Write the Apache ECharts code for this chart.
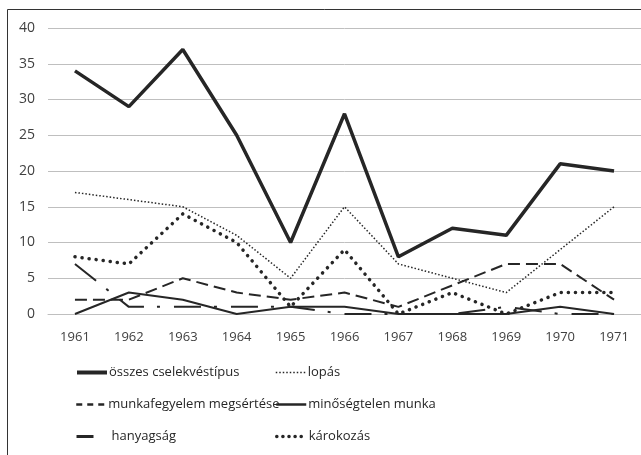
<!DOCTYPE html>
<html>
<head>
<meta charset="utf-8">
<script src="https://cdn.jsdelivr.net/npm/echarts@6/dist/echarts.min.js"></script>
<style>html,body{margin:0;padding:0;background:#fff}#c{width:641px;height:455px}</style>
</head>
<body>
<div id="c"></div>
<script>
var years = ['1961','1962','1963','1964','1965','1966','1967','1968','1969','1970','1971'];
var osszes = [34, 29, 37, 25, 10, 28, 8, 12, 11, 21, 20];
var lopas = [17, 16, 15, 11, 5, 15, 7, 5, 3, 9, 15];
var munkafegyelem = [2, 2, 5, 3, 2, 3, 1, 4, 7, 7, 2];
var minosegtelen = [0, 3, 2, 0, 1, 1, 0, 0, 0, 1, 0];
var hanyagsag = [7, 1, 1, 1, 1, 0, 0, 0, 1, 0, 0];
var karokozas = [8, 7, 14, 10, 1, 9, 0, 3, 0, 3, 3];
var seriesNames = ['összes cselekvéstípus','lopás','munkafegyelem megsértése','minőségtelen munka','hanyagság','károkozás'];

var FONT = '"Open Sans", sans-serif';
var chart = echarts.init(document.getElementById('c'), null, {renderer:'canvas'});

function mkSeries(name, data, ls) {
  return {
    name: name, type: 'line', data: data, symbol: 'none', showSymbol: false, animation: false,
    lineStyle: Object.assign({color: '#262626'}, ls),
    itemStyle: {color: '#262626'}
  };
}

var legendPos = [
  {left: 75, top: 366},
  {left: 275, top: 366},
  {left: 75, top: 398},
  {left: 275, top: 398},
  {left: 75, top: 430},
  {left: 275, top: 430}
];
var legendLines = [
  {width: 4, type: 'solid'},
  {width: 1.5, type: [1.5, 2]},
  {width: 2.5, type: [6, 5]},
  {width: 2.5, type: 'solid'},
  {width: 3, type: [17, 100]},
  {width: 3.5, type: [0.1, 6], cap: 'round'}
];

var legends = seriesNames.map(function(n, i){
  var ls = Object.assign({color: '#262626'}, legendLines[i]);
  return {
    data: [{name: n, lineStyle: ls}], left: legendPos[i].left, top: legendPos[i].top,
    itemWidth: 30, itemHeight: 14, itemGap: 0, padding: 0,
    itemStyle: {opacity: 0},
    lineStyle: ls,
    textStyle: {fontFamily: FONT, fontSize: 13, color: '#262626', padding: [0,0,0,-3]}
  };
});
legends[4].textStyle.padding = [0,0,0,0];

chart.setOption({
  animation: false,
  backgroundColor: '#fff',
  grid: {left: 48, right: -5, top: 28, bottom: 141},
  xAxis: {
    type: 'category', data: years, boundaryGap: true,
    axisLine: {show: true, lineStyle: {color: '#bfbfbf', width: 1}},
    axisTick: {show: false},
    axisLabel: {fontFamily: FONT, fontSize: 13, color: '#404040', margin: 17}
  },
  yAxis: {
    type: 'value', min: 0, max: 40, interval: 5,
    axisLine: {show: false}, axisTick: {show: false},
    splitLine: {lineStyle: {color: '#bfbfbf', width: 1}},
    axisLabel: {fontFamily: FONT, fontSize: 14, color: '#404040', margin: 13}
  },
  legend: legends,
  graphic: [{
    type: 'rect', silent: true, z: 100,
    shape: {x: 7.5, y: 9.5, width: 700, height: 500},
    style: {fill: 'none', stroke: '#333', lineWidth: 1}
  }],
  series: [
    mkSeries(seriesNames[0], osszes, {width: 3.5, type: 'solid'}),
    mkSeries(seriesNames[1], lopas, {width: 1.5, type: [1.5, 2]}),
    mkSeries(seriesNames[2], munkafegyelem, {width: 2, type: [12, 6]}),
    mkSeries(seriesNames[3], minosegtelen, {width: 2, type: 'solid'}),
    mkSeries(seriesNames[4], hanyagsag, {width: 2, type: [27, 13, 3, 14]}),
    mkSeries(seriesNames[5], karokozas, {width: 3.5, type: [0.1, 7], cap: 'round'})
  ]
});
</script>
</body>
</html>
